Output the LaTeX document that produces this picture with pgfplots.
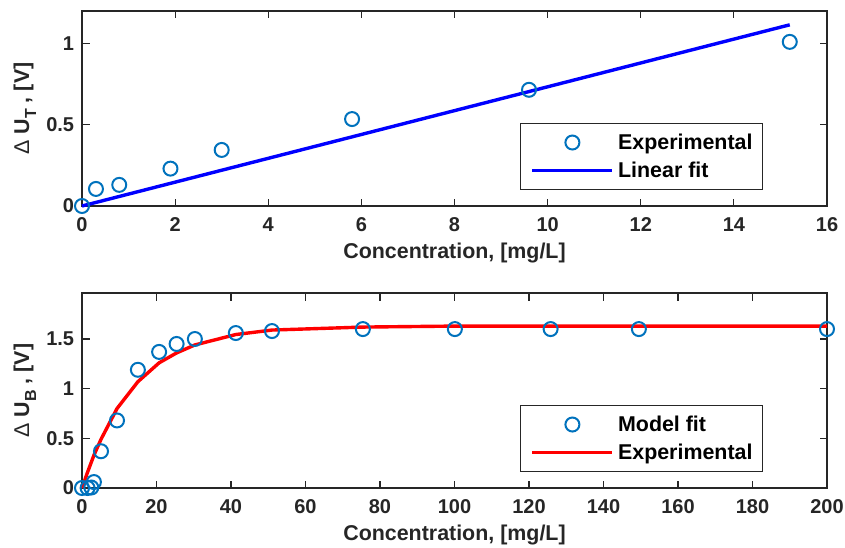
\documentclass[border=0pt]{standalone}
\usepackage{fontspec}
\setmainfont{Liberation Sans}
\usepackage{pgfplots}
\pgfplotsset{compat=1.18}

\definecolor{mblue}{rgb}{0,0.447,0.741}
\definecolor{axgray}{rgb}{0.15,0.15,0.15}

\newcommand{\sub}[1]{\raisebox{-3.5pt}{\fontsize{8}{8}\selectfont #1}}

\pgfplotsset{
  mlab/.style={
    scale only axis, width=372.5pt, height=97.5pt,
    clip=false,
    axis line style={axgray, line width=0.6pt},
    every tick/.style={axgray, line width=0.6pt},
    major tick length=3.75pt,
    tick align=inside,
    xtick pos=both, ytick pos=both,
    /pgf/number format/assume math mode=true,
    tick label style={font=\fontsize{10}{12}\selectfont\bfseries, text=axgray},
    xticklabel style={anchor=base, inner sep=0pt, yshift=-12.75pt},
    yticklabel style={anchor=east, inner sep=0pt, xshift=-3.75pt},
    label style={font=\fontsize{10.7}{13}\selectfont\bfseries, text=axgray},
    xlabel style={at={(axis description cs:0.5,0)}, anchor=base, yshift=-26.25pt},
    ylabel style={at={(axis description cs:-0.0711,0.5)}, anchor=base},
    legend cell align=left,
    legend style={at={(axis description cs:0.9141,0.082)}, anchor=south east,
      draw=axgray, line width=0.5pt, fill=white,
      font=\fontsize{10.7}{12}\selectfont\bfseries, text=black,
      inner xsep=5pt, inner ysep=5.1pt, row sep=5.2pt,
      nodes={inner sep=0pt, text height=8pt, text depth=0.8pt},
      /tikz/every even column/.append style={column sep=0pt}},
  },
  markleg/.style={legend image code/.code={
      \draw[##1,mark repeat=1] plot coordinates {(20pt,0pt)};
      \path (0pt,0pt) (42pt,0pt);}},
  lineleg/.style={legend image code/.code={
      \draw[##1] (0pt,0pt) -- (40pt,0pt);
      \path (42pt,0pt);}},
}

\begin{document}
\begin{tikzpicture}
\useasboundingbox (0,0) rectangle (422.5pt,273.5pt);

% upper panel
\begin{axis}[mlab,
  at={(41pt,170.5pt)}, anchor=south west,
  xmin=0, xmax=16, ymin=0, ymax=1.2,
  xtick={0,2,...,16}, ytick={0,0.5,1},
  xlabel={Concentration, [mg/L]},
  ylabel={{\mdseries Δ} U\sub{T} , [V]},
]
\addplot[only marks, mark=o, mark size=3.5pt, mblue, line width=1pt, markleg] coordinates {
  (0,0) (0.3,0.105) (0.8,0.13) (1.9,0.23) (3.0,0.345) (5.8,0.535) (9.6,0.715) (15.2,1.01)
};
\addlegendentry{Experimental}
\addplot[blue, line width=1.7pt, lineleg] coordinates {
  (0,0) (15.2,1.115)
};
\addlegendentry{Linear fit}
\end{axis}

% lower panel
\begin{axis}[mlab,
  at={(41pt,29.5pt)}, anchor=south west,
  xmin=0, xmax=200, ymin=0, ymax=1.963,
  xtick={0,20,...,200}, ytick={0,0.5,1,1.5},
  xlabel={Concentration, [mg/L]},
  ylabel={{\mdseries Δ} U\sub{B} , [V]},
]
\addplot[only marks, mark=o, mark size=3.5pt, mblue, line width=1pt, markleg] coordinates {
  (0,0) (1.5,0) (2.5,0.005) (3.2,0.06) (5.1,0.37) (9.4,0.68) (15,1.19) (20.7,1.37)
  (25.4,1.45) (30.3,1.50) (41.3,1.56) (51,1.58) (75.4,1.60) (100.1,1.60)
  (125.8,1.60) (149.5,1.60) (200,1.60)
};
\addlegendentry{Model fit}
\addplot[red, line width=1.7pt, lineleg] coordinates {
  (0,0) (1.5,0.16) (3.2,0.33) (5.1,0.49) (9.4,0.80) (15,1.07) (20.7,1.26)
  (25.4,1.36) (30.3,1.44) (41.3,1.545) (51,1.59) (75.4,1.62) (100,1.63)
  (125.8,1.63) (149.5,1.63) (200,1.63)
};
\addlegendentry{Experimental}
\end{axis}
\end{tikzpicture}
\end{document}
